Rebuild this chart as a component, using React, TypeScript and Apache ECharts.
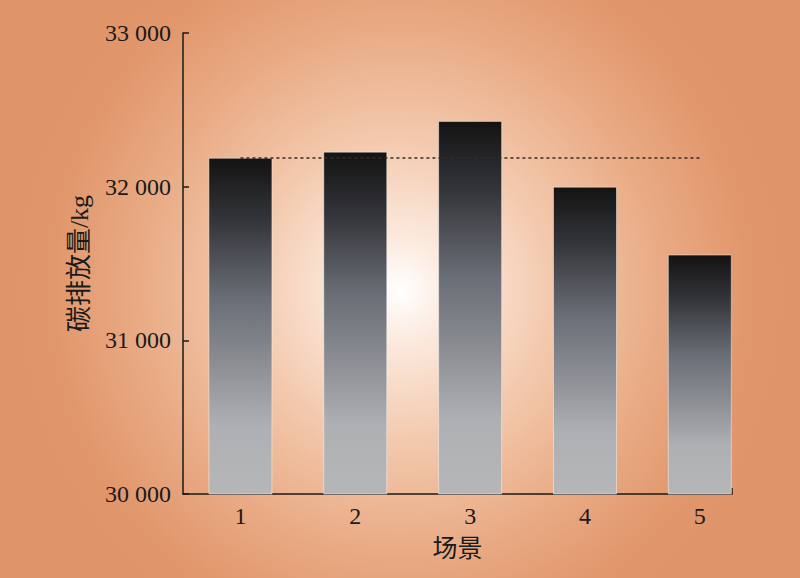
import React, { useEffect, useRef } from "react";
import * as echarts from "echarts";

const scenarios = [1, 2, 3, 4, 5];
const emissions = [32188, 32228, 32428, 32000, 31558];
const referenceValue = 32188;
const yTicks = [30000, 31000, 32000, 33000];

const fmt = (v: number) => {
  const s = String(Math.round(v));
  return s.length > 3 ? s.slice(0, s.length - 3) + " " + s.slice(-3) : s;
};

export default function App() {
  const ref = useRef<HTMLDivElement>(null);
  useEffect(() => {
    if (!ref.current) return;
    document.body.style.margin = "0";
    const chart = echarts.init(ref.current, undefined, { renderer: "svg" });
    const font = '"Liberation Serif", "Times New Roman", "Noto Sans CJK SC", serif';
    chart.setOption({
      animation: false,
      backgroundColor: {
        type: "radial",
        x: 400,
        y: 290,
        r: 400,
        global: true,
        colorStops: [
          { offset: 0, color: "#ffffff" },
          { offset: 0.12, color: "#fcebe0" },
          { offset: 0.38, color: "#f3c9ad" },
          { offset: 0.65, color: "#e9ab85" },
          { offset: 0.88, color: "#e1966b" },
          { offset: 1, color: "#e0946a" },
        ],
      },
      grid: { left: 183, right: 68, top: 33, bottom: 84 },
      xAxis: {
        type: "value",
        min: 0.5,
        max: 5.28,
        name: "场景",
        nameLocation: "middle",
        nameGap: 42,
        nameTextStyle: { fontFamily: font, fontSize: 25, color: "#1a1a1a" },
        splitLine: { show: false },
        axisLine: { show: true, lineStyle: { color: "#1a1a1a", width: 1.5 } },
        axisTick: {
          show: true,
          inside: true,
          length: 6,
          customValues: [5.28],
          lineStyle: { color: "#1a1a1a", width: 1.5 },
        },
        axisLabel: {
          customValues: scenarios,
          fontFamily: font,
          fontSize: 24,
          color: "#1a1a1a",
          margin: 10,
        },
      },
      yAxis: {
        type: "value",
        min: yTicks[0],
        max: yTicks[yTicks.length - 1],
        interval: 1000,
        name: "碳排放量/kg",
        nameLocation: "middle",
        nameGap: 91,
        nameTextStyle: { fontFamily: font, fontSize: 26, color: "#1a1a1a" },
        splitLine: { show: false },
        axisLine: { show: true, lineStyle: { color: "#1a1a1a", width: 1.5 } },
        axisTick: { show: true, inside: true, length: 6, lineStyle: { color: "#1a1a1a", width: 1.5 } },
        axisLabel: {
          fontFamily: font,
          fontSize: 24,
          color: "#1a1a1a",
          margin: 12,
          formatter: (v: number) => fmt(v),
        },
      },
      series: [
        {
          type: "bar",
          barWidth: 64,
          data: scenarios.map((s, i) => [s, emissions[i]]),
          itemStyle: {
            borderColor: "rgba(255,255,255,0.45)",
            borderWidth: 1,
            color: {
              type: "linear",
              x: 0,
              y: 0,
              x2: 0,
              y2: 1,
              colorStops: [
                { offset: 0, color: "#131313" },
                { offset: 0.18, color: "#333439" },
                { offset: 0.42, color: "#6a6e76" },
                { offset: 0.55, color: "#808389" },
                { offset: 0.8, color: "#afb0b3" },
                { offset: 1, color: "#b5b6b8" },
              ],
            },
          },
          markLine: {
            silent: true,
            symbol: "none",
            label: { show: false },
            lineStyle: { color: "#3a2a22", type: [3, 3], width: 1.5 },
            data: [
              [
                { coord: [1, referenceValue] },
                { coord: [5, referenceValue] },
              ],
            ],
          },
        },
      ],
    });
    return () => chart.dispose();
  }, []);
  return <div ref={ref} style={{ width: 800, height: 578 }} />;
}
